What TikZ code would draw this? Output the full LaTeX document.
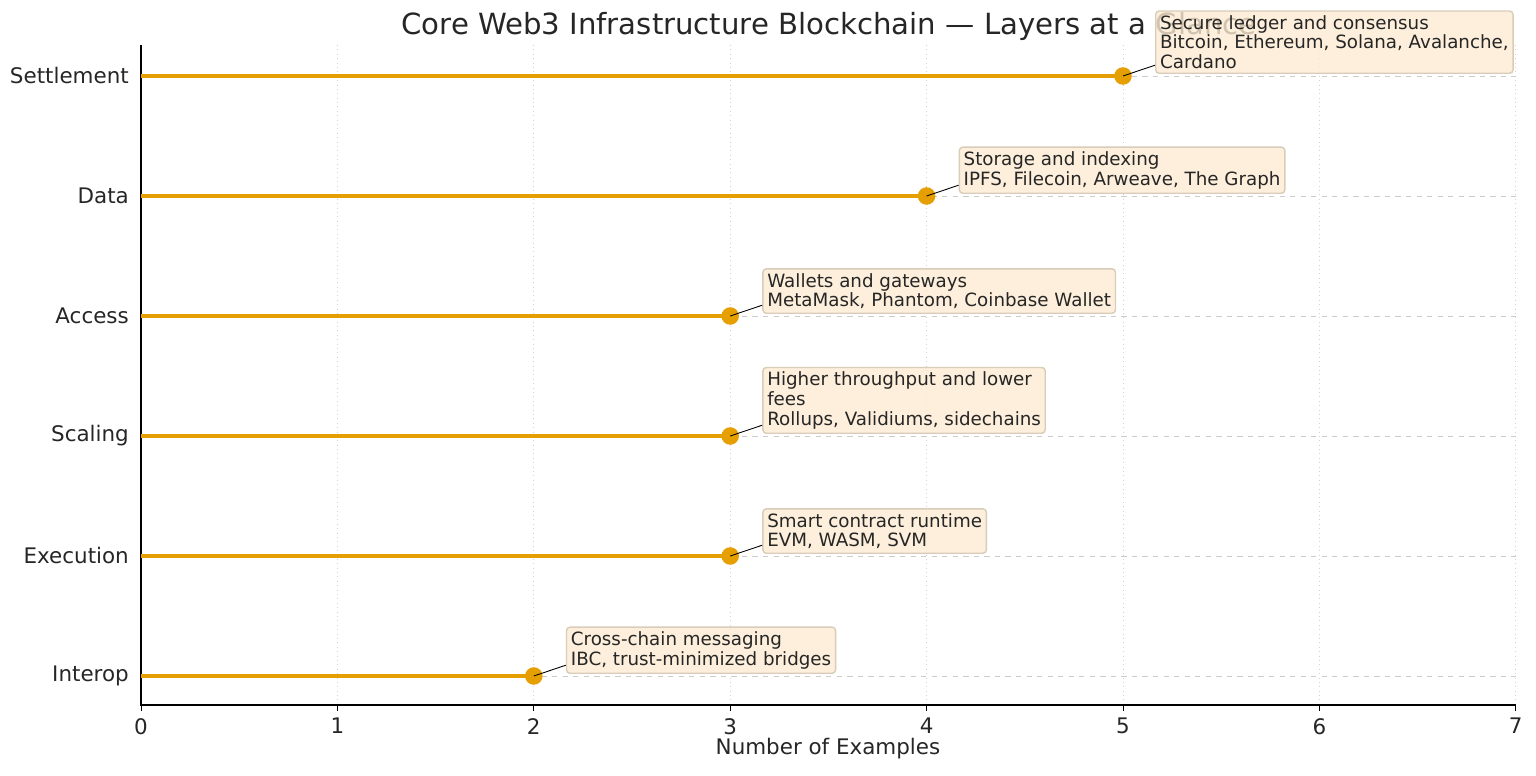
\documentclass[tikz,border=0pt]{standalone}
\usepackage{fontspec}
\setmainfont{DejaVu Sans}
\definecolor{stem}{HTML}{E69F00}
\definecolor{boxfill}{HTML}{FCEBD2}
\definecolor{boxline}{HTML}{D8CDB8}
\tikzset{
  grid line/.style={gray!35, line width=0.5pt, dotted},
  row line/.style={gray!40, line width=0.5pt, dashed},
  stem line/.style={stem, line width=2pt},
  dot/.style={circle, fill=stem, inner sep=0pt, minimum size=10pt},
  note/.style={draw=boxline, fill=boxfill, fill opacity=0.8, draw opacity=1, text opacity=1,
    rounded corners=2pt, line width=0.8pt,
    font=\fontsize{10.4}{11.2}\selectfont, align=left, inner sep=2.5pt, anchor=south west, text=black!85},
  tick label/.style={font=\fontsize{12.2}{13}\selectfont, text=black!85}
}
\begin{document}
\begin{tikzpicture}[x=0.02cm, y=-0.02cm]
\useasboundingbox (0,0) rectangle (1536,776);
% grid
\foreach \k in {1,...,7}
  \draw[grid line] (141+196.4*\k,45) -- (141+196.4*\k,705);
% axes
\draw[black, line width=0.8pt] (141,45) -- (141,705) -- (1516,705);
\foreach \k in {0,...,7}{
  \draw (141+196.4*\k,705) -- (141+196.4*\k,711);
  \node[tick label, anchor=north] (xt\k) at (141+196.4*\k,712) {\k};
}
\node[tick label] (xlab) at (828,749) {Number of Examples};
\node[font=\fontsize{16.6}{17}\selectfont, text=black!85] (title) at (829,26) {Core Web3 Infrastructure Blockchain — Layers at a Glance};
% rows
\foreach \i/\name/\val/\txt in {
  0/Settlement/5/{Secure ledger and consensus\\Bitcoin, Ethereum, Solana, Avalanche,\\Cardano},
  1/Data/4/{Storage and indexing\\IPFS, Filecoin, Arweave, The Graph},
  2/Access/3/{Wallets and gateways\\MetaMask, Phantom, Coinbase Wallet},
  3/Scaling/3/{Higher throughput and lower\\fees\\Rollups, Validiums, sidechains},
  4/Execution/3/{Smart contract runtime\\EVM, WASM, SVM},
  5/Interop/2/{Cross-chain messaging\\IBC, trust-minimized bridges}}{
  \node[tick label, anchor=east] (lab\i) at (135,76+120*\i) {\name};
  \draw[row line] (141,76+120*\i) -- (1516,76+120*\i);
  \draw[stem line] (141,76+120*\i) -- (141+196.4*\val,76+120*\i);
  \node[dot] (pt\i) at (141+196.4*\val,76+120*\i) {};
  \node[note] (note\i) at (141+196.4*\val+32,76+120*\i-2) {\txt};
  \draw[black, line width=0.5pt] (pt\i.center) -- ([yshift=5pt]note\i.south west);
}
\end{tikzpicture}
\end{document}
